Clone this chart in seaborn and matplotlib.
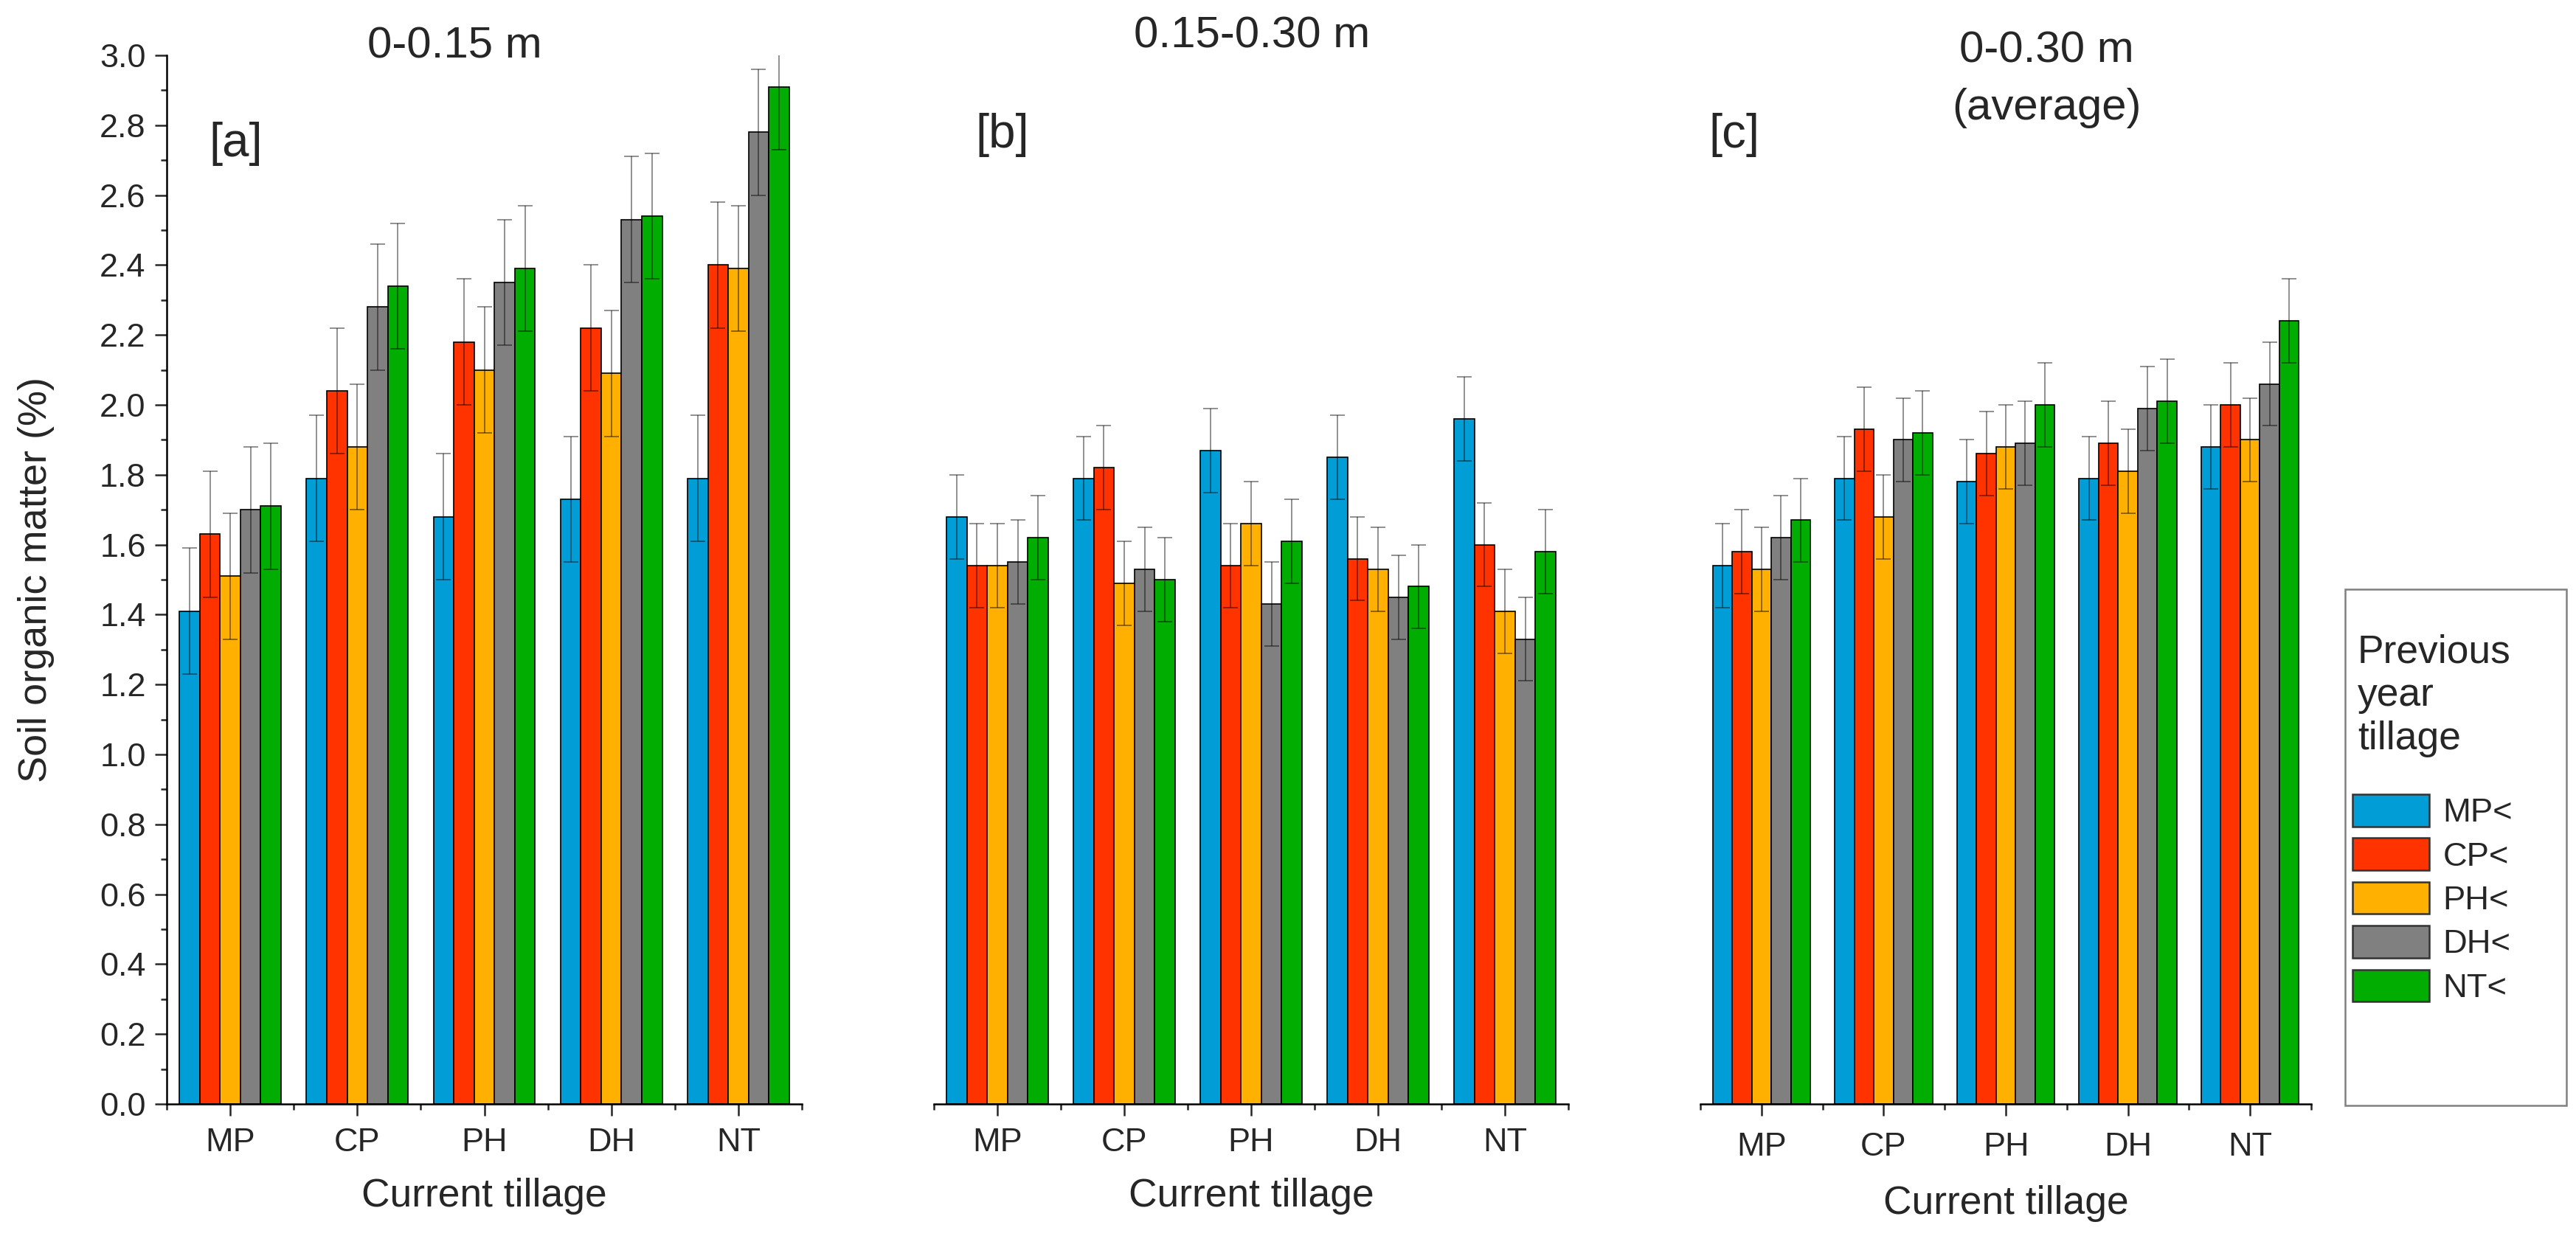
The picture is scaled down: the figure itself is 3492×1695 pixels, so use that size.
import pandas as pd
import seaborn as sns
import matplotlib.pyplot as plt
from matplotlib.patches import Patch, Rectangle
from matplotlib.ticker import MultipleLocator, FormatStrFormatter, FixedLocator

# Categories
current = ['MP', 'CP', 'PH', 'DH', 'NT']
previous = ['MP<', 'CP<', 'PH<', 'DH<', 'NT<']
colors = ['#009DD6', '#FF3300', '#FFB000', '#808080', '#00AD00']

# Soil organic matter (%), rows = current tillage, columns = previous year tillage
som_a = [[1.41, 1.63, 1.51, 1.70, 1.71],
         [1.79, 2.04, 1.88, 2.28, 2.34],
         [1.68, 2.18, 2.10, 2.35, 2.39],
         [1.73, 2.22, 2.09, 2.53, 2.54],
         [1.79, 2.40, 2.39, 2.78, 2.91]]
err_a = [[0.18, 0.18, 0.18, 0.18, 0.18],
         [0.18, 0.18, 0.18, 0.18, 0.18],
         [0.18, 0.18, 0.18, 0.18, 0.18],
         [0.18, 0.18, 0.18, 0.18, 0.18],
         [0.18, 0.18, 0.18, 0.18, 0.18]]

som_b = [[1.68, 1.54, 1.54, 1.55, 1.62],
         [1.79, 1.82, 1.49, 1.53, 1.50],
         [1.87, 1.54, 1.66, 1.43, 1.61],
         [1.85, 1.56, 1.53, 1.45, 1.48],
         [1.96, 1.60, 1.41, 1.33, 1.58]]
err_b = [[0.12, 0.12, 0.12, 0.12, 0.12],
         [0.12, 0.12, 0.12, 0.12, 0.12],
         [0.12, 0.12, 0.12, 0.12, 0.12],
         [0.12, 0.12, 0.12, 0.12, 0.12],
         [0.12, 0.12, 0.12, 0.12, 0.12]]

som_c = [[1.54, 1.58, 1.53, 1.62, 1.67],
         [1.79, 1.93, 1.68, 1.90, 1.92],
         [1.78, 1.86, 1.88, 1.89, 2.00],
         [1.79, 1.89, 1.81, 1.99, 2.01],
         [1.88, 2.00, 1.90, 2.06, 2.24]]
err_c = [[0.12, 0.12, 0.12, 0.12, 0.12],
         [0.12, 0.12, 0.12, 0.12, 0.12],
         [0.12, 0.12, 0.12, 0.12, 0.12],
         [0.12, 0.12, 0.12, 0.12, 0.12],
         [0.12, 0.12, 0.12, 0.12, 0.12]]

sns.set_style('ticks')
plt.rcParams['font.family'] = ['Liberation Sans', 'DejaVu Sans']

W, H = 3492, 1695
fig = plt.figure(figsize=(W / 300, H / 300), dpi=300)


def fx(px):
    return px / W


def fy(py):
    return 1 - py / H


def to_long(som, err):
    rows = []
    for i, cur in enumerate(current):
        for j, prev in enumerate(previous):
            rows.append({'current': cur, 'previous': prev,
                         'som': som[i][j], 'err': err[i][j]})
    return pd.DataFrame(rows)


panels = [
    (som_a, err_a, 226, 1087, True),
    (som_b, err_b, 1266, 2126, False),
    (som_c, err_c, 2305, 3133, False),
]

for k, (som, err, x0, x1, show_y) in enumerate(panels):
    ax = fig.add_axes([fx(x0), fy(1497), fx(x1 - x0), (1497 - 75) / H])
    df = to_long(som, err)
    sns.barplot(data=df, x='current', y='som', hue='previous',
                order=current, hue_order=previous, palette=colors,
                saturation=1, errorbar=None, width=0.8, edgecolor='black',
                linewidth=0.4, legend=False, ax=ax)

    # error bars at bar centres
    xs, ys, es = [], [], []
    for p in ax.patches:
        cx = p.get_x() + p.get_width() / 2
        ci = int(round(cx))
        hi = int(round((cx - ci + 0.32) / 0.16))
        xs.append(cx)
        ys.append(p.get_height())
        es.append(err[ci][hi])
    ax.errorbar(xs, ys, yerr=es, fmt='none', ecolor=(0, 0, 0, 0.45),
                elinewidth=0.45, capsize=2.4, capthick=0.45, zorder=3)

    ax.set_ylim(0, 3.0)
    ax.set_xlim(-0.5, 4.5)
    ax.xaxis.set_minor_locator(FixedLocator([-0.5, 0.5, 1.5, 2.5, 3.5, 4.5]))
    ax.tick_params(axis='x', which='major', length=3.8, width=0.6,
                   labelsize=10.8, pad=3.8 if k < 2 else 5.3)
    ax.tick_params(axis='x', which='minor', length=2.0, width=0.6)
    ax.set_xlabel('Current tillage', fontsize=12.8,
                  labelpad=6.5 if k < 2 else 7.5)

    for side in ['top', 'right']:
        ax.spines[side].set_visible(False)
    for side in ['left', 'bottom']:
        ax.spines[side].set_linewidth(0.6)
        ax.spines[side].set_color('black')

    if show_y:
        ax.yaxis.set_major_locator(MultipleLocator(0.2))
        ax.yaxis.set_minor_locator(MultipleLocator(0.1))
        ax.yaxis.set_major_formatter(FormatStrFormatter('%.1f'))
        ax.tick_params(axis='y', which='major', length=3.8, width=0.6,
                       labelsize=10.8, pad=3.0)
        ax.tick_params(axis='y', which='minor', length=2.0, width=0.6)
        ax.set_ylabel('Soil organic matter (%)', fontsize=13)
        ax.yaxis.set_label_coords((74 - x0) / (x1 - x0), 0.5)
    else:
        ax.spines['left'].set_visible(False)
        ax.set_yticks([])
        ax.set_ylabel('')

# panel titles and letters
fig.text(fx(616), fy(63), '0-0.15 m', ha='center', va='center', fontsize=14.4)
fig.text(fx(1697), fy(49), '0.15-0.30 m', ha='center', va='center', fontsize=14.4)
fig.text(fx(2774), fy(69), '0-0.30 m', ha='center', va='center', fontsize=14.4)
fig.text(fx(2774), fy(146), '(average)', ha='center', va='center', fontsize=14.4)
fig.text(fx(320), fy(195), '[a]', ha='center', va='center', fontsize=15.7)
fig.text(fx(1359), fy(183), '[b]', ha='center', va='center', fontsize=15.7)
fig.text(fx(2351), fy(183), '[c]', ha='center', va='center', fontsize=15.7)

# legend
fig.add_artist(Rectangle((fx(3179), fy(1499)), fx(300), 700 / H,
                         transform=fig.transFigure, facecolor='none',
                         edgecolor='#808080', linewidth=0.6))
fig.text(fx(3196), fy(943), 'Previous\nyear\ntillage', ha='left', va='center',
         fontsize=12.8, linespacing=1.22)
handles = [Patch(facecolor=c, edgecolor='#333333', linewidth=0.6) for c in colors]
fig.legend(handles, previous, loc='upper left',
           bbox_to_anchor=(fx(3189), fy(1077)), frameon=False, borderpad=0,
           borderaxespad=0, handlelength=2.3, handleheight=1.1,
           labelspacing=0.29, handletextpad=0.4, fontsize=10.9)

fig.savefig('out.png', dpi=300)
